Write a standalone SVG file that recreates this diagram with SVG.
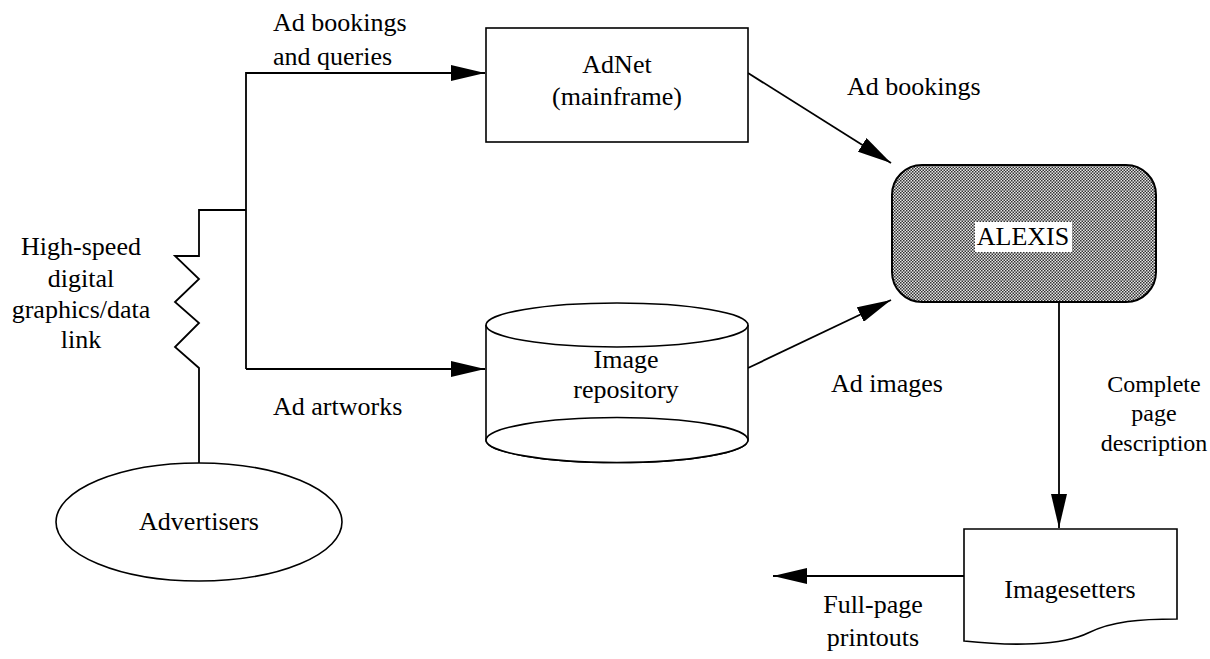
<svg xmlns="http://www.w3.org/2000/svg" width="1210" height="659" viewBox="0 0 1210 659">
  <style>
    .shape { fill: #fff; stroke: #000; stroke-width: 1.6; }
    .link { fill: none; stroke: #000; stroke-width: 1.8; }
    .txt { font-family: "Liberation Serif", "Times New Roman", serif; font-size: 26px; fill: #000; }
    .small { font-size: 24px; }
    .mid { text-anchor: middle; }
  </style>
  <defs>
    <marker id="arrow" markerUnits="userSpaceOnUse" markerWidth="34" markerHeight="16" refX="34" refY="8" orient="auto" viewBox="0 0 34 16">
      <path d="M0,0 L34,8 L0,16 Z" fill="#000"/>
    </marker>
    <!-- fine stipple screen used for the ALEXIS system -->
    <pattern id="stipple" width="3" height="3" patternUnits="userSpaceOnUse">
      <rect width="3" height="3" fill="#e6e6e6"/>
      <rect x="0" y="0" width="1.5" height="1.5" fill="#333"/>
      <rect x="1.5" y="1.5" width="1.5" height="1.5" fill="#333"/>
    </pattern>
  </defs>

  <!-- connectors -->
  <g id="connectors">
    <!-- data link from advertisers, drawn as a zigzag -->
    <polyline class="link" stroke-width="2.4" points="199,463 199,368 175,347 199,323 175,302 199,279 175,256 199,256 199,210 246,210"/>
    <polyline class="link" points="246,369 246,73 485,73" marker-end="url(#arrow)"/>
    <polyline class="link" points="246,369 485,369" marker-end="url(#arrow)"/>
    <line class="link" stroke-width="2.8" x1="748" y1="73" x2="891" y2="163" marker-end="url(#arrow)"/>
    <line class="link" stroke-width="2.2" x1="748" y1="368" x2="891" y2="300" marker-end="url(#arrow)"/>
    <line class="link" x1="1059" y1="302" x2="1059" y2="528" marker-end="url(#arrow)"/>
    <line class="link" x1="964" y1="576" x2="773" y2="576" marker-end="url(#arrow)"/>
  </g>

  <!-- connector labels -->
  <g id="labels" class="txt">
    <text x="273" y="31">Ad bookings</text>
    <text x="273" y="65">and queries</text>
    <text x="847" y="95">Ad bookings</text>
    <text x="831" y="392">Ad images</text>
    <text x="273" y="415">Ad artworks</text>
    <text class="mid" x="81" y="255">High-speed</text>
    <text class="mid" x="81" y="287">digital</text>
    <text class="mid" x="81" y="318">graphics/data</text>
    <text class="mid" x="81" y="348">link</text>
    <text class="mid small" x="1154" y="392">Complete</text>
    <text class="mid small" x="1154" y="421">page</text>
    <text class="mid small" x="1154" y="451">description</text>
    <text class="mid" x="873" y="613">Full-page</text>
    <text class="mid" x="873" y="646">printouts</text>
  </g>

  <g id="adnet">
    <rect class="shape" x="486" y="28" width="262" height="114"/>
    <text class="txt mid" x="617" y="73">AdNet</text>
    <text class="txt mid" x="617" y="105">(mainframe)</text>
  </g>

  <g id="alexis">
    <rect x="892" y="165" width="264" height="137" rx="30" ry="30" fill="url(#stipple)" stroke="#000" stroke-width="2"/>
    <rect x="975" y="222" width="97" height="30" fill="#fff"/>
    <text class="txt mid" x="1023" y="245">ALEXIS</text>
  </g>

  <g id="image-repository">
    <path class="shape" d="M486,325 V440 A131,22.5 0 0 0 748,440 V325"/>
    <ellipse class="shape" cx="617" cy="440" rx="131" ry="22.5"/>
    <ellipse class="shape" cx="617" cy="325" rx="131" ry="22"/>
    <text class="txt mid" x="626" y="368">Image</text>
    <text class="txt mid" x="626" y="398">repository</text>
  </g>

  <g id="advertisers">
    <ellipse class="shape" cx="199" cy="522" rx="143" ry="59"/>
    <text class="txt mid" x="199" y="530">Advertisers</text>
  </g>

  <g id="imagesetters">
    <path class="shape" d="M964,529 H1177 V619 C1140,619 1112,621 1088,633 C1062,646 1010,646 964,641 Z"/>
    <text class="txt mid" x="1070" y="598">Imagesetters</text>
  </g>
</svg>
